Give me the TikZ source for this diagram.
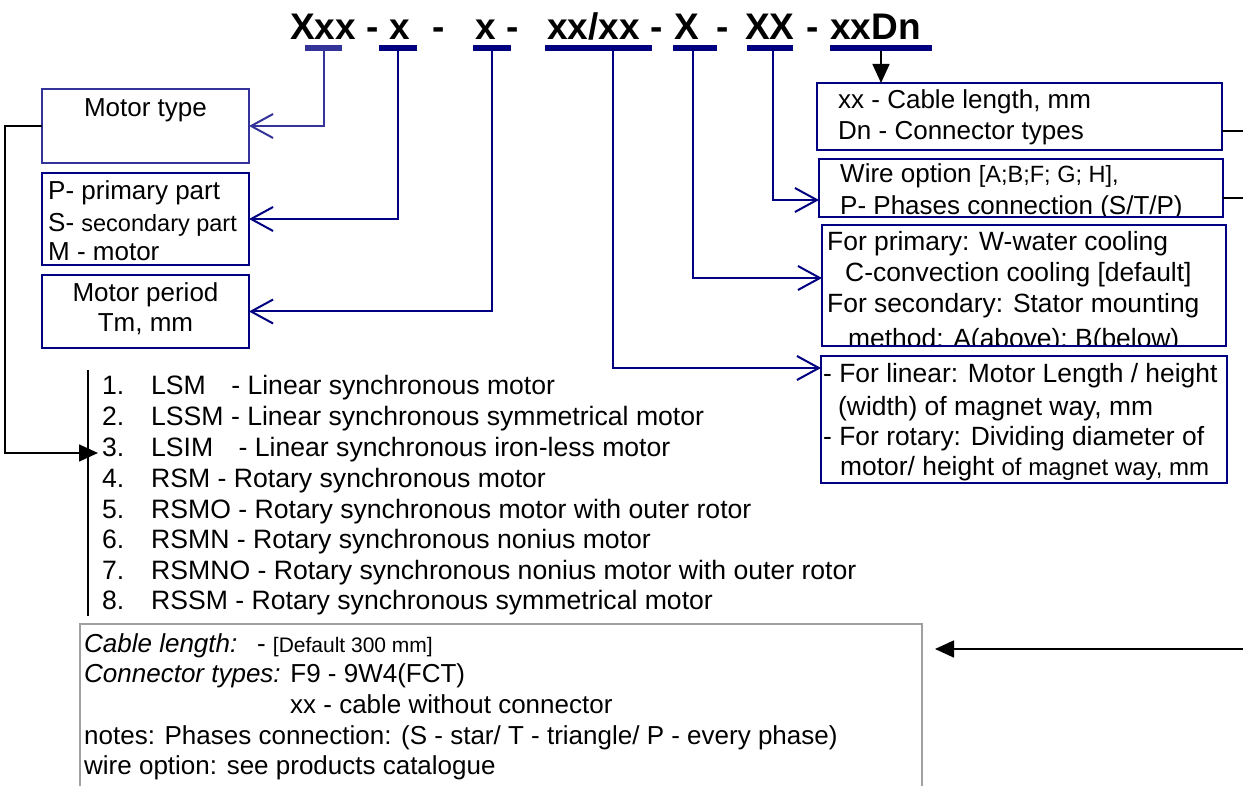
\documentclass[tikz,border=0pt]{standalone}
\usepackage{fontspec}
\setmainfont{Liberation Sans}
\usetikzlibrary{arrows.meta}
\definecolor{navy}{HTML}{000080}
\definecolor{lnavy}{HTML}{333399}
\definecolor{greyb}{HTML}{A0A0A0}
\newcommand{\bodyfont}{\fontsize{26}{30}\selectfont}
\newcommand{\listfont}{\fontsize{26.6}{30}\selectfont}
\newcommand{\smallfont}{\fontsize{21}{25}\selectfont}
\newcommand{\midfont}{\fontsize{23.5}{28}\selectfont}
\newcommand{\titlefont}{\fontsize{37}{42}\selectfont\bfseries}
\begin{document}
\begin{tikzpicture}[x=1pt,y=-1pt,
  txt/.style={anchor=base west, inner sep=0, font=\bodyfont},
  ctxt/.style={anchor=base, inner sep=0, font=\bodyfont},
  ltxt/.style={anchor=base west, inner sep=0, font=\listfont},
  ttl/.style={anchor=base west, inner sep=0, font=\titlefont},
  bar/.style={fill=navy, draw=none, minimum height=6, inner sep=0, outer sep=0},
  box/.style={draw=navy, line width=1.6, inner sep=0, outer sep=0, rectangle},
  conn/.style={draw=navy, line width=2, -{Straight Barb[length=22pt, width=24pt]}},
  blk/.style={draw=black, line width=1.6},
  blkarrow/.style={blk, -{Triangle[length=19pt, width=17pt]}},
]
\useasboundingbox (0,0) rectangle (1243,786);

% title
\node[ttl] (t1) at (290,40) {Xxx};
\node[ttl] (h1) at (366,40) {-};
\node[ttl] (t2) at (389,40) {x};
\node[ttl] (h2) at (432,40) {-};
\node[ttl] (t3) at (475,40) {x};
\node[ttl] (h3) at (506,40) {-};
\node[ttl] (t4) at (547,40) {xx/xx};
\node[ttl] (h4) at (650,40) {-};
\node[ttl] (t5) at (674,40) {X};
\node[ttl] (h5) at (716,40) {-};
\node[ttl] (t6) at (745,40) {XX};
\node[ttl] (h6) at (806,40) {-};
\node[ttl] (t7) at (830,40) {xxDn};

% bars
\node[bar, fill=lnavy, minimum width=37] (b1) at (323.5,48) {};
\node[bar, minimum width=38] (b2) at (398,48) {};
\node[bar, minimum width=38] (b3) at (492,48) {};
\node[bar, minimum width=107] (b4) at (598.5,48) {};
\node[bar, minimum width=44] (b5) at (695,48) {};
\node[bar, minimum width=46] (b6) at (770,48) {};
\node[bar, minimum width=102] (b7) at (881,48) {};

% left boxes
\node[box, draw=lnavy, minimum width=207, minimum height=74] (mt) at (145.5,126) {};
\node[box, minimum width=207, minimum height=92] (pp) at (145.5,219) {};
\node[box, minimum width=207, minimum height=73] (mp) at (145.5,311.5) {};

% right boxes
\node[box, minimum width=405, minimum height=67] (xc) at (1019.5,116.5) {};
\node[box, minimum width=404, minimum height=58] (wo) at (1021,188) {};
\node[box, minimum width=404, minimum height=121] (pr) at (1024,285.5) {};
\node[box, minimum width=406, minimum height=127] (ln) at (1024,419.5) {};

% texts in left boxes
\node[ctxt] (mtT) at (145.5,117) {Motor type};
\node[txt] (pp1) at (48,200) {P- primary part};
\node[txt] (pp2) at (48,232) {S- {\midfont secondary part}};
\node[txt] (pp3) at (48,261) {M - motor};
\node[ctxt] (mp1) at (145.5,302) {Motor period};
\node[ctxt] (mp2) at (145.5,332) {Tm, mm};

% texts in right boxes
\node[txt] (xc1) at (838,109) {xx - Cable length, mm};
\node[txt] (xc2) at (838,140) {Dn - Connector types};
\begin{scope}
  \clip (819,159) rectangle (1223,216);
  \node[txt] (wo1) at (840,183) {Wire option {\midfont [A;B;F; G; H],}};
  \node[txt] (wo2) at (840,215) {P- Phases connection (S/T/P)};
\end{scope}
\begin{scope}
  \clip (822,225) rectangle (1226,344.5);
  \node[txt, font=\fontsize{26.4}{30}\selectfont] (pr1) at (827,251) {For primary: W-water cooling};
  \node[txt, font=\fontsize{26.4}{30}\selectfont] (pr2) at (845,282) {C-convection cooling [default]};
  \node[txt, font=\fontsize{26.4}{30}\selectfont] (pr3) at (827,313) {For secondary: Stator mounting};
  \node[txt, font=\fontsize{26.4}{30}\selectfont] (pr4) at (848,348) {method: A(above); B(below)};
\end{scope}
\node[txt, font=\fontsize{26.4}{30}\selectfont] (ln1) at (823,383) {- For linear: Motor Length / height};
\node[txt, font=\fontsize{26.4}{30}\selectfont] (ln2) at (838,415) {(width) of magnet way, mm};
\node[txt, font=\fontsize{26.4}{30}\selectfont] (ln3) at (823,445) {- For rotary: Dividing diameter of};
\node[txt, font=\fontsize{26.4}{30}\selectfont] (ln4) at (840,475) {motor/ height {\fontsize{24}{28}\selectfont of magnet way, mm}};

% list
\coordinate (lt) at (88,370);
\coordinate (lb) at (88,616);
\draw[blk] (lt) -- (lb);
\foreach \n/\y/\t in {1/395/{LSM\hspace{18pt} - Linear synchronous motor},
  2/425/{LSSM - Linear synchronous symmetrical motor},
  3/456/{LSIM\hspace{18pt} - Linear synchronous iron-less motor},
  4/487/{RSM - Rotary synchronous motor},
  5/518/{RSMO - Rotary synchronous motor with outer rotor},
  6/548/{RSMN - Rotary synchronous nonius motor},
  7/579/{RSMNO - Rotary synchronous nonius motor with outer rotor},
  8/609/{RSSM - Rotary synchronous symmetrical motor}}{
  \node[ltxt] (num\n) at (102,\y) {\n.};
  \node[ltxt] (li\n) at (151,\y) {\t};
}

% bottom box
\coordinate (bb1) at (80,786);
\coordinate (bb2) at (80,624);
\coordinate (bb3) at (922,624);
\coordinate (bb4) at (922,786);
\draw[greyb, line width=1.6] (bb1) -- (bb2) -- (bb3) -- (bb4);
\node[txt] (bt1) at (84,652) {\textit{Cable length:}\hspace{10pt} - {\smallfont [Default 300 mm]}};
\node[txt] (bt2) at (84,682) {\textit{Connector types:} F9 - 9W4(FCT)};
\node[txt] (bt3) at (290,713) {xx - cable without connector};
\node[txt] (bt4) at (84,744) {notes: Phases connection: (S - star/ T - triangle/ P - every phase)};
\node[txt] (bt5) at (84,774) {wire option: see products catalogue};

% connectors
\coordinate (v4) at (613,51);
\coordinate (v5) at (693,51);
\coordinate (v6) at (772.5,51);
\coordinate (lnIn) at (821,368);
\coordinate (prIn) at (822,278);
\coordinate (woIn) at (819,200);
\draw[conn, draw=lnavy] (b1.south) |- (mt.east);
\draw[conn] (b2.south) |- (pp.east);
\draw[conn] (b3.south) |- (mp.east);
\draw[conn] (v4) |- (lnIn);
\draw[conn] (v5) |- (prIn);
\draw[conn] (v6) |- (woIn);
\draw[blkarrow] (b7.south) -- (b7.south |- xc.north);

\coordinate (lk) at (5,126);
\coordinate (a3) at (98,453);
\draw[blkarrow] (mt.west) -- (lk) |- (a3);

\coordinate (xcOut) at (1222,131);
\coordinate (r1) at (1243,131);
\coordinate (woOut) at (1223,198);
\coordinate (r2) at (1243,198);
\draw[blk] (xcOut) -- (r1);
\draw[blk] (woOut) -- (r2);
\coordinate (r3) at (1243,649);
\coordinate (bt) at (935,649);
\draw[blkarrow] (r3) -- (bt);
\end{tikzpicture}
\end{document}
